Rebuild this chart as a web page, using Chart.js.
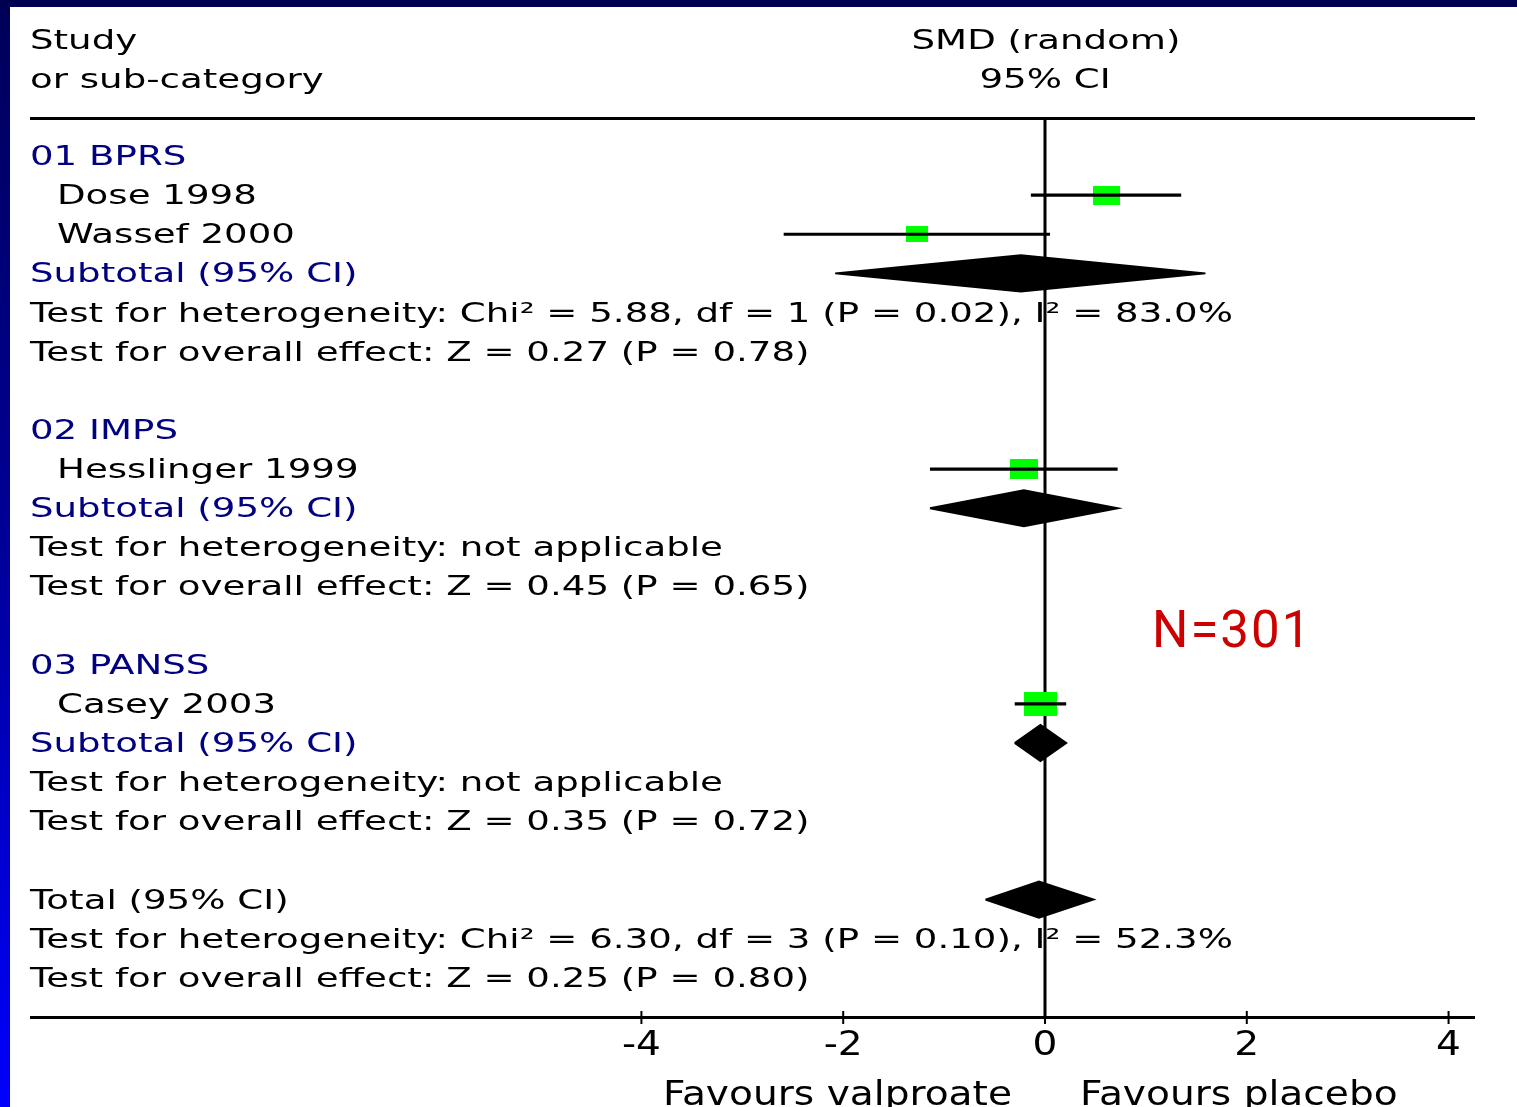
<!DOCTYPE html>
<html>
<head>
<meta charset="utf-8">
<script src="https://cdn.jsdelivr.net/npm/chart.js@4.4.1/dist/chart.umd.min.js"></script>
<style>
  html, body { margin: 0; padding: 0; background: #ffffff; }
  canvas { display: block; }
</style>
</head>
<body>
<canvas id="forest" width="1517" height="1107"></canvas>
<script>
// ---- Individual studies: standardised mean difference (random), 95% CI ----
const studyNames  = ['Dose 1998', 'Wassef 2000', 'Hesslinger 1999', 'Casey 2003'];
const studyRows   = [1, 2, 8, 14];
const studySMD    = [0.61, -1.27, -0.21, -0.045];
const studyLow    = [-0.14, -2.59, -1.14, -0.30];
const studyHigh   = [1.35, 0.05, 0.72, 0.21];
const studyWeight = [24, 16, 25, 35];

// ---- Sub-categories ----
const groupNames   = ['01 BPRS', '02 IMPS', '03 PANSS'];
const groupRows    = [0, 7, 13];
const subtotalRows = [3, 9, 15];
const subtotalSMD  = [-0.24, -0.21, -0.045];
const subtotalLow  = [-2.08, -1.14, -0.30];
const subtotalHigh = [1.59, 0.72, 0.21];
const heterogeneityText = [
  'Test for heterogeneity: Chi\u00b2 = 5.88, df = 1 (P = 0.02), I\u00b2 = 83.0%',
  'Test for heterogeneity: not applicable',
  'Test for heterogeneity: not applicable'
];
const overallEffectText = [
  'Test for overall effect: Z = 0.27 (P = 0.78)',
  'Test for overall effect: Z = 0.45 (P = 0.65)',
  'Test for overall effect: Z = 0.35 (P = 0.72)'
];

// ---- Pooled total ----
const totalRow  = 19;
const totalSMD  = [-0.06];
const totalLow  = [-0.59];
const totalHigh = [0.48];
const totalText = [
  'Total (95% CI)',
  'Test for heterogeneity: Chi\u00b2 = 6.30, df = 3 (P = 0.10), I\u00b2 = 52.3%',
  'Test for overall effect: Z = 0.25 (P = 0.80)'
];

// ---- Axis and header text ----
const xTicks        = [-4, -2, 0, 2, 4];
const favourLabels  = ['Favours valproate', 'Favours placebo'];
const headerLeft    = ['Study', 'or sub-category'];
const headerRight   = ['SMD (random)', '95% CI'];
const subtotalLabel = 'Subtotal (95% CI)';
const sampleNote    = 'N=301';

// ---- Styles ----
const NAVY = '#000080';
const BOX_GREEN = '#00ff00';
const BODY_FONT = '26px "DejaVu Sans"';
const AXIS_FONT = '33px "DejaVu Sans"';
const DIAMOND_HALF = 0.46;   // half height of a diamond, in rows

// Weighted study boxes (width proportional to sqrt(weight))
function boxImage(weight) {
  const w = Math.round(5.6 * Math.sqrt(weight));
  const h = Math.round(w * 0.72);
  const c = document.createElement('canvas');
  c.width = w; c.height = h;
  const g = c.getContext('2d');
  g.fillStyle = BOX_GREEN;
  g.fillRect(0, 0, w, h);
  return c;
}

function diamond(est, lo, hi, row) {
  return [
    { x: lo, y: row },
    { x: est, y: row - DIAMOND_HALF },
    { x: hi, y: row },
    { x: est, y: row + DIAMOND_HALF },
    { x: lo, y: row }
  ];
}

const datasets = [];
// confidence-interval whiskers (drawn on top of the boxes)
studyNames.forEach((name, i) => {
  datasets.push({
    label: name + ' CI',
    data: [{ x: studyLow[i], y: studyRows[i] }, { x: studyHigh[i], y: studyRows[i] }],
    showLine: true, borderColor: '#000', borderWidth: 3.2, pointRadius: 0, fill: false
  });
});
// study boxes
datasets.push({
  label: 'Studies',
  data: studyNames.map((n, i) => ({ x: studySMD[i], y: studyRows[i] })),
  showLine: false,
  pointStyle: studyWeight.map(boxImage),
  pointRadius: 10
});
// subtotal diamonds
groupNames.forEach((g, i) => {
  datasets.push({
    label: g + ' subtotal',
    data: diamond(subtotalSMD[i], subtotalLow[i], subtotalHigh[i], subtotalRows[i]),
    showLine: true, borderColor: '#000', backgroundColor: '#000', borderWidth: 2,
    pointRadius: 0, fill: 'shape', tension: 0
  });
});
// total diamond
datasets.push({
  label: 'Total',
  data: diamond(totalSMD[0], totalLow[0], totalHigh[0], totalRow),
  showLine: true, borderColor: '#000', backgroundColor: '#000', borderWidth: 2,
  pointRadius: 0, fill: 'shape', tension: 0
});

function drawStretched(ctx, str, x, y, align, sx) {
  ctx.save();
  ctx.translate(x, y);
  ctx.scale(sx, 1);
  ctx.textAlign = align;
  ctx.fillText(str, 0, 0);
  ctx.restore();
}

const forestPlugin = {
  id: 'forestDecor',
  beforeDraw(chart) {
    const ctx = chart.ctx;
    const W = chart.width, H = chart.height;
    ctx.save();
    ctx.fillStyle = '#ffffff';
    ctx.fillRect(0, 0, W, H);
    // slide frame: dark top band and blue gradient on the left
    const grad = ctx.createLinearGradient(0, 0, 0, H);
    grad.addColorStop(0, '#000058');
    grad.addColorStop(0.5, '#00009a');
    grad.addColorStop(1, '#0000ff');
    ctx.fillStyle = grad;
    ctx.fillRect(0, 0, 10, H);
    ctx.fillStyle = '#000050';
    ctx.fillRect(0, 0, W, 7);
    ctx.restore();
  },
  beforeDatasetsDraw(chart) {
    const ctx = chart.ctx;
    const xs = chart.scales.x, ys = chart.scales.y;
    const area = chart.chartArea;
    const left = area.left;
    ctx.save();
    ctx.font = BODY_FONT;
    ctx.textBaseline = 'alphabetic';
    // common horizontal stretch of the body type
    const sx = 1203 / ctx.measureText(heterogeneityText[0]).width;
    const off = 9;   // baseline offset below row centre
    const rowY = r => ys.getPixelForValue(r) + off;

    ctx.fillStyle = '#000';
    drawStretched(ctx, headerLeft[0], left, 49, 'left', sx);
    drawStretched(ctx, headerLeft[1], left, 88, 'left', sx);
    const zx = xs.getPixelForValue(0);
    drawStretched(ctx, headerRight[0], zx + 1, 49, 'center', sx);
    drawStretched(ctx, headerRight[1], zx, 88, 'center', sx);

    groupNames.forEach((g, i) => {
      ctx.fillStyle = NAVY;
      drawStretched(ctx, g, left, rowY(groupRows[i]), 'left', sx);
      drawStretched(ctx, subtotalLabel, left, rowY(subtotalRows[i]), 'left', sx);
      ctx.fillStyle = '#000';
      drawStretched(ctx, heterogeneityText[i], left, rowY(subtotalRows[i] + 1), 'left', sx);
      drawStretched(ctx, overallEffectText[i], left, rowY(subtotalRows[i] + 2), 'left', sx);
    });
    ctx.fillStyle = '#000';
    studyNames.forEach((n, i) => {
      drawStretched(ctx, n, left + 27, rowY(studyRows[i]), 'left', sx);
    });
    totalText.forEach((t, i) => {
      drawStretched(ctx, t, left, rowY(totalRow + i), 'left', sx);
    });

    // header rule
    ctx.fillRect(area.left, area.top - 1, area.right - area.left, 3);
    // line of no effect
    ctx.fillRect(zx - 1.5, area.top, 3, area.bottom - area.top);
    // horizontal axis with ticks
    ctx.fillRect(area.left, area.bottom - 1, area.right - area.left, 3);
    xTicks.forEach(t => {
      const px = xs.getPixelForValue(t);
      ctx.fillRect(px - 1, area.bottom - 6, 2, 13);
    });

    // tick labels and direction captions
    ctx.font = AXIS_FONT;
    const ax = 349 / ctx.measureText(favourLabels[0]).width;
    xTicks.forEach(t => {
      const px = xs.getPixelForValue(t);
      drawStretched(ctx, String(t), px, area.bottom + 38, 'center', ax);
    });
    drawStretched(ctx, favourLabels[0], zx - 33, area.bottom + 88, 'right', ax);
    drawStretched(ctx, favourLabels[1], zx + 35, area.bottom + 88, 'left', ax);

    // sample size note
    ctx.fillStyle = '#cc0000';
    ctx.font = '51px Roboto';
    ctx.textAlign = 'left';
    ctx.letterSpacing = '2px';
    ctx.fillText(sampleNote, 1152, 647);
    ctx.restore();
  }
};

new Chart(document.getElementById('forest'), {
  type: 'scatter',
  data: { datasets },
  options: {
    responsive: false,
    animation: false,
    devicePixelRatio: 1,
    layout: { padding: { left: 30, right: 42, top: 118, bottom: 90 } },
    plugins: { legend: { display: false }, tooltip: { enabled: false } },
    scales: {
      x: { type: 'linear', display: false, min: -10.06, max: 4.262 },
      y: { type: 'linear', display: false, reverse: true, min: -0.97, max: 22.0 }
    }
  },
  plugins: [forestPlugin]
});
</script>
</body>
</html>
